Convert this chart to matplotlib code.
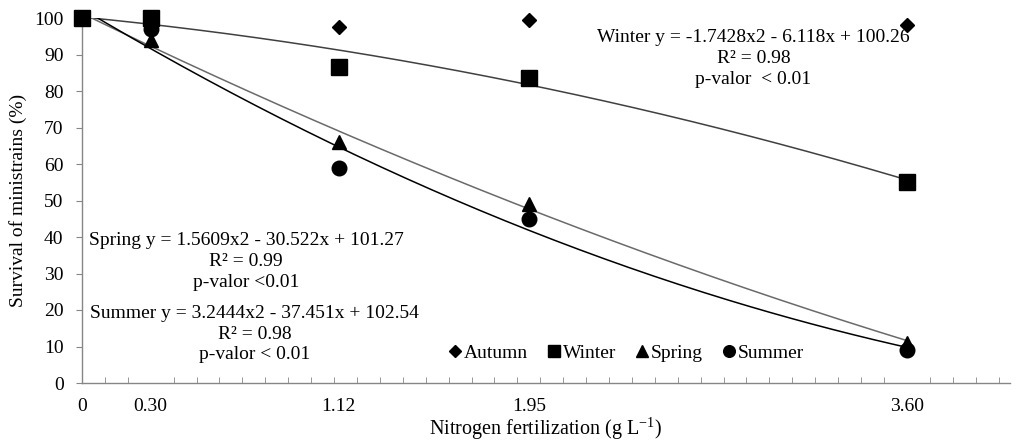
import numpy as np
import matplotlib
matplotlib.use("Agg")
import matplotlib.pyplot as plt
from matplotlib.ticker import MultipleLocator

plt.rcParams['font.family'] = ['Liberation Serif', 'DejaVu Serif']

# nitrogen doses (g L-1)
doses = [0, 0.30, 1.12, 1.95, 3.60]
dose_labels = ['0', '0.30', '1.12', '1.95', '3.60']

autumn = [100, 99, 97.5, 99.5, 98]
winter = [100, 100, 86.5, 83.5, 55]
spring = [100, 94, 66, 49, 11]
summer = [100, 97, 59, 45, 9]

# quadratic trendline coefficients (a, b, c) as printed on the chart
winter_fit = [-1.7428, -6.118, 100.26]
spring_fit = [1.5609, -30.522, 101.27]
summer_fit = [3.2444, -37.451, 102.54]

fs = 14

fig = plt.figure(figsize=(10.19, 4.42), dpi=100)
ax = fig.add_axes([82/1019, 1-383/442, (1010-82)/1019, (383-18)/442])

# trendlines
xs = np.linspace(0, 3.6, 200)
ax.plot(xs, np.polyval(winter_fit, xs), color='#404040', lw=1.1, zorder=2)
ax.plot(xs, np.polyval(spring_fit, xs), color='#6a6a6a', lw=1.1, zorder=2)
ax.plot(xs, np.polyval(summer_fit, xs), color='black', lw=1.1, zorder=2)

ax.plot(doses, autumn, 'D', color='black', ms=7.5, ls='none', label='Autumn', clip_on=False, zorder=3)
ax.plot(doses, spring, '^', color='black', ms=10, ls='none', label='Spring', clip_on=False, zorder=3)
ax.plot(doses, summer, 'o', color='black', ms=10.5, ls='none', label='Summer', clip_on=False, zorder=3)
ax.plot(doses, winter, 's', color='black', ms=11, ls='none', label='Winter', clip_on=False, zorder=4)

ax.set_xlim(0, 4.05)
ax.set_ylim(0, 100)
ax.set_yticks(range(0, 101, 10))
ax.set_xticks(doses)
ax.set_xticklabels(dose_labels)
ax.xaxis.set_minor_locator(MultipleLocator(0.1))

ax.tick_params(axis='x', which='major', length=0, pad=11, labelsize=fs)
ax.tick_params(axis='x', which='minor', direction='in', length=4, color='#868686')
ax.tick_params(axis='y', direction='out', length=4.3, color='#868686', labelsize=fs, pad=9)

for s in ['top', 'right']:
    ax.spines[s].set_visible(False)
for s in ['left', 'bottom']:
    ax.spines[s].set_color('#868686')
    ax.spines[s].set_linewidth(1)

ax.set_ylabel('Survival of ministrains (%)', fontsize=fs)
ax.yaxis.set_label_coords((27-82)/928, 0.5)
fig.text(546/1019, 1-429/442, 'Nitrogen fertilization (g L$^{\\mathregular{-1}}$)',
         ha='center', va='center', fontsize=14.5)

# equation annotations
ax.text(2.93, 88.8, 'Winter y = -1.7428x2 - 6.118x + 100.26\nR² = 0.98\np-valor  < 0.01',
        ha='center', va='center', fontsize=fs, multialignment='center', linespacing=1.3)
ax.text(0.716, 33.2, 'Spring y = 1.5609x2 - 30.522x + 101.27\nR² = 0.99\np-valor <0.01',
        ha='center', va='center', fontsize=fs, multialignment='center', linespacing=1.3)
ax.text(0.753, 13.4, 'Summer y = 3.2444x2 - 37.451x + 102.54\nR² = 0.98\np-valor < 0.01',
        ha='center', va='center', fontsize=fs, multialignment='center', linespacing=1.3)

h, l = ax.get_legend_handles_labels()
order = [l.index(n) for n in ['Autumn', 'Winter', 'Spring', 'Summer']]
ax.legend([h[i] for i in order], [l[i] for i in order], loc='center',
          bbox_to_anchor=((625-82)/928, (383-353)/365), ncol=4, frameon=False,
          fontsize=fs, handletextpad=0.0, columnspacing=0.9, handlelength=0.9,
          markerscale=0.8)

fig.savefig('out.png', dpi=100)
